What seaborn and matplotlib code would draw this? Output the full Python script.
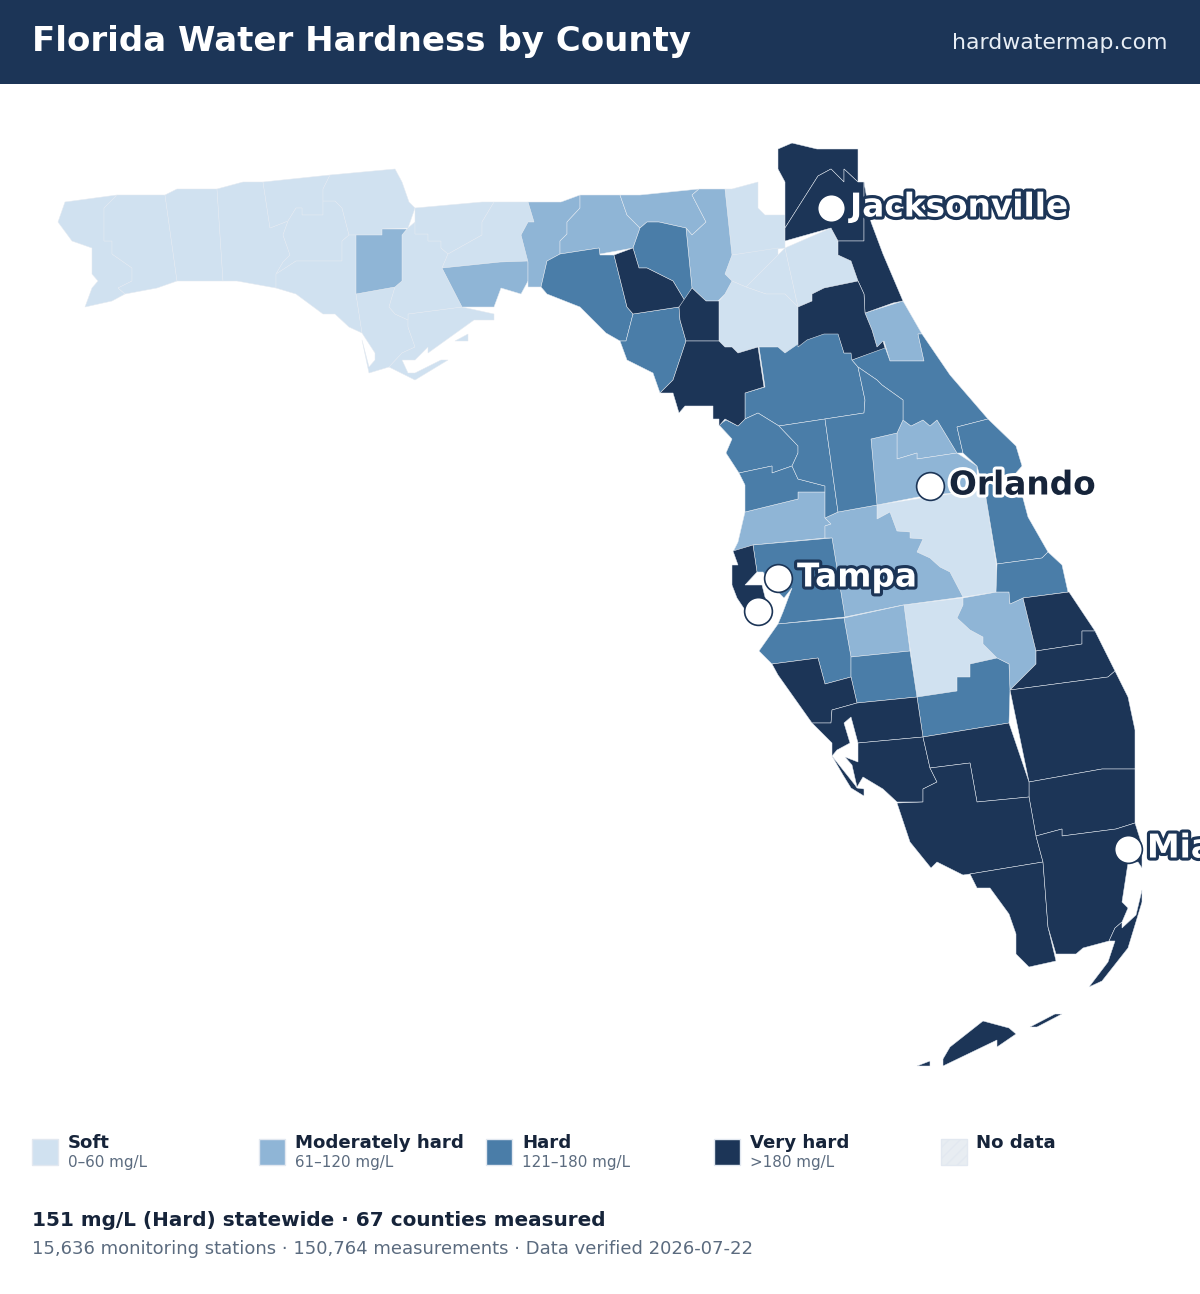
import matplotlib
matplotlib.use('Agg')
import matplotlib.pyplot as plt
import matplotlib.patheffects as pe
import pandas as pd
import seaborn as sns
from matplotlib.patches import Rectangle

# county outlines (x, y in picture pixels)
soft_shapes = [
    [(65,202),(117,195),(104,208),(104,241),(112,241),(112,254),(132,268),(132,281),(118,288),(125,294),(112,301),(85,307),(92,288),(98,281),(92,274),(92,248),(72,241),(58,222)],
    [(117,195),(165,195),(177,281),(157,288),(125,294),(118,288),(132,281),(132,268),(112,254),(112,241),(104,241),(104,208)],
    [(165,195),(177,189),(217,189),(223,281),(177,281)],
    [(217,189),(243,182),(263,182),(270,228),(288,221),(283,235),(290,255),(283,262),(276,274),(276,288),(237,281),(223,281)],
    [(263,182),(330,175),(323,189),(323,215),(302,215),(302,208),(296,208),(288,221),(270,228)],
    [(296,208),(302,208),(302,215),(323,215),(323,201),(335,201),(342,208),(349,235),(342,241),(342,261),(296,261),(276,274),(283,262),(290,255),(283,235),(288,221)],
    [(330,175),(395,169),(402,182),(409,202),(415,208),(408,228),(382,229),(382,235),(356,235),(349,235),(342,208),(335,201),(323,201),(323,189)],
    [(276,274),(296,261),(342,261),(342,241),(349,235),(356,235),(356,294),(362,333),(349,327),(335,314),(323,314),(296,294),(276,288)],
    [(356,294),(395,287),(389,307),(395,314),(408,320),(408,327),(415,347),(402,353),(389,367),(369,373),(362,340),(369,367),(375,360),(375,353),(362,333)],
    [(408,314),(462,307),(494,314),(494,320),(474,320),(428,353),(428,347),(415,360),(402,360),(408,373),(415,373),(441,360),(448,360),(415,380),(389,367),(402,353),(415,347),(408,327),(408,320)],
    [(455,341),(468,334),(468,341)],
    [(415,222),(408,228),(402,235),(402,281),(395,287),(389,307),(395,314),(408,320),(408,314),(462,307),(442,268),(448,254),(441,248),(441,241),(428,241),(428,234),(415,234)],
    [(415,208),(482,202),(494,202),(482,222),(482,235),(448,254),(441,248),(441,241),(428,241),(428,234),(415,234),(415,222)],
    [(494,202),(528,202),(534,222),(528,222),(521,235),(528,261),(500,262),(442,268),(448,254),(482,235),(482,222)],
    [(725,189),(732,189),(758,182),(758,208),(765,215),(785,215),(785,248),(732,255)],
    [(732,255),(778,248),(778,255),(746,287),(732,281),(725,274)],
    [(778,255),(785,248),(798,307),(785,294),(766,294),(746,287)],
    [(785,248),(831,228),(838,242),(838,255),(851,261),(858,281),(824,288),(812,294),(812,301),(798,307)],
    [(732,281),(746,287),(766,294),(785,294),(798,307),(798,347),(785,353),(778,347),(758,347),(738,353),(732,347),(725,347),(719,341),(719,301),(725,294)],
    [(877,505),(877,519),(890,512),(897,531),(910,532),(910,538),(923,539),(917,552),(930,558),(940,567),(950,572),(963,597),(996,592),(996,563),(986,498),(977,490)],
    [(904,605),(963,598),(963,605),(957,618),(970,630),(983,637),(983,644),(997,658),(970,664),(970,677),(957,677),(957,691),(917,697)],
]
moderate_shapes = [
    [(356,235),(382,235),(382,229),(407,229),(402,235),(402,281),(395,287),(356,294)],
    [(442,268),(500,262),(528,261),(528,281),(521,294),(501,288),(494,307),(462,307)],
    [(528,202),(561,202),(580,195),(580,208),(567,222),(567,234),(560,241),(560,254),(547,261),(541,287),(528,287),(528,262),(521,235),(528,222),(534,222)],
    [(580,195),(620,195),(627,215),(640,228),(633,248),(600,254),(599,248),(560,254),(560,241),(567,234),(567,222),(580,208)],
    [(620,195),(640,195),(699,189),(692,195),(706,222),(692,235),(686,228),(659,222),(647,222),(640,228),(627,215)],
    [(699,189),(725,189),(732,255),(725,274),(732,281),(725,294),(718,301),(706,301),(692,288),(686,228),(692,235),(706,222),(692,195)],
    [(865,313),(903,301),(922,334),(918,334),(924,361),(890,361),(884,341),(877,347),(872,330)],
    [(903,420),(911,426),(923,420),(930,426),(937,420),(957,453),(917,459),(917,453),(897,459),(897,433)],
    [(871,439),(897,433),(897,459),(917,453),(917,459),(957,453),(977,466),(977,490),(918,497),(877,505)],
    [(745,512),(798,499),(798,492),(825,492),(825,518),(831,524),(825,526),(825,538),(753,545),(733,552),(738,542)],
    [(825,518),(838,512),(877,505),(877,519),(890,512),(897,531),(910,532),(910,538),(923,539),(917,552),(930,558),(940,567),(950,572),(963,597),(903,605),(845,617),(832,538),(825,538),(825,526),(831,524)],
    [(844,618),(904,605),(910,651),(851,657)],
    [(963,598),(997,592),(1009,592),(1010,604),(1023,598),(1036,651),(1036,664),(1010,690),(1009,664),(997,658),(983,644),(983,637),(970,630),(957,618),(963,605)],
]
hard_shapes = [
    [(640,228),(647,222),(659,222),(686,228),(692,288),(685,301),(673,281),(647,268),(639,268),(633,248)],
    [(547,261),(560,254),(599,248),(600,255),(614,255),(627,307),(633,314),(626,341),(620,341),(606,333),(580,307),(547,294),(541,287)],
    [(633,314),(679,307),(680,320),(686,341),(673,380),(660,393),(653,373),(627,360),(620,341),(626,341)],
    [(759,347),(778,347),(785,353),(798,344),(805,340),(825,333),(838,333),(844,353),(852,353),(852,360),(858,367),(865,400),(864,413),(825,419),(779,426),(758,413),(745,419),(745,393),(765,387)],
    [(852,360),(885,347),(890,361),(924,361),(918,334),(922,334),(950,375),(988,419),(957,427),(963,453),(957,453),(937,420),(930,426),(923,420),(911,426),(903,420),(903,400),(882,385),(877,380),(858,367)],
    [(719,425),(726,420),(738,426),(745,419),(758,413),(779,426),(798,446),(798,453),(792,466),(772,473),(772,466),(739,473),(726,453),(732,439)],
    [(739,473),(772,466),(772,473),(792,466),(798,479),(825,486),(825,492),(798,492),(798,499),(745,512),(745,485)],
    [(779,426),(825,419),(838,512),(825,518),(825,486),(798,479),(792,466),(798,453),(798,446)],
    [(825,419),(864,413),(865,400),(858,367),(877,380),(882,385),(903,400),(903,420),(897,433),(871,439),(877,505),(838,512)],
    [(957,427),(988,419),(1016,446),(1022,466),(1015,474),(1020,487),(1028,517),(1048,552),(1042,558),(997,564),(986,498),(977,466),(963,453)],
    [(997,564),(1042,558),(1048,552),(1062,565),(1068,592),(1023,598),(1010,604),(1009,592),(996,592)],
    [(753,545),(832,538),(845,617),(778,624),(783,612),(792,588),(784,598),(780,594),(772,585),(763,572),(757,572)],
    [(778,624),(844,618),(851,657),(851,677),(825,684),(818,658),(772,664),(759,651)],
    [(851,657),(910,651),(917,697),(857,703),(851,677)],
    [(997,658),(1009,664),(1010,690),(1009,723),(923,737),(917,697),(957,691),(957,677),(970,677),(970,664)],
]
very_hard_shapes = [
    [(614,255),(633,248),(639,268),(647,268),(673,281),(685,301),(679,307),(633,314),(627,307)],
    [(679,307),(692,288),(706,301),(719,301),(719,341),(686,341),(680,320)],
    [(686,341),(719,341),(725,347),(732,347),(738,353),(758,347),(764,387),(745,393),(745,419),(738,426),(725,419),(719,426),(719,419),(713,419),(713,406),(685,406),(679,413),(673,393),(660,393),(673,380)],
    [(778,149),(792,143),(817,149),(858,149),(858,182),(844,169),(844,182),(831,169),(818,176),(785,228),(785,182),(778,169)],
    [(785,228),(818,176),(831,169),(844,182),(844,169),(858,182),(864,182),(864,241),(838,241),(831,228),(785,241)],
    [(838,241),(864,241),(864,182),(871,222),(883,254),(903,301),(893,303),(865,313),(864,294),(858,281),(851,261),(838,255)],
    [(798,307),(812,301),(812,294),(824,288),(858,281),(864,294),(865,313),(872,330),(877,347),(883,341),(885,348),(852,360),(851,353),(844,353),(838,334),(824,334),(807,340),(798,347)],
    [(733,551),(753,545),(757,572),(745,585),(762,585),(765,597),(772,610),(745,610),(737,598),(732,585),(732,565),(738,565)],
    [(772,664),(818,658),(825,684),(851,677),(857,703),(832,710),(831,723),(812,723),(778,675)],
    [(857,703),(917,697),(923,737),(858,743),(851,717),(844,723),(850,743),(837,750),(832,756),(832,743),(812,723),(831,723),(832,710)],
    [(858,743),(923,737),(930,768),(937,782),(923,789),(923,802),(897,802),(883,789),(863,777),(857,787),(852,765),(845,757),(858,762)],
    [(832,756),(855,785),(857,788),(864,789),(864,796),(851,788),(843,775)],
    [(1023,598),(1069,592),(1095,631),(1082,631),(1082,644),(1036,651)],
    [(1036,651),(1082,644),(1082,631),(1095,631),(1115,671),(1108,677),(1010,690),(1036,664)],
    [(1010,690),(1108,677),(1115,671),(1128,697),(1135,730),(1135,769),(1102,769),(1029,782)],
    [(1029,782),(1102,769),(1135,769),(1135,823),(1116,829),(1062,836),(1062,829),(1036,836),(1029,797)],
    [(923,737),(1009,723),(1029,782),(1029,797),(977,802),(970,763),(930,768)],
    [(930,768),(970,763),(977,802),(1029,797),(1036,836),(1043,862),(970,874),(963,875),(937,862),(931,868),(910,842),(897,803),(923,802),(923,789),(937,782)],
    [(970,874),(1043,862),(1048,927),(1056,961),(1029,967),(1016,954),(1016,934),(1009,914),(990,888),(977,888)],
    [(1036,836),(1062,829),(1062,836),(1116,829),(1135,823),(1142,845),(1142,868),(1138,862),(1128,863),(1122,902),(1128,908),(1122,922),(1115,928),(1109,941),(1083,948),(1076,954),(1056,954),(1048,927),(1043,862)],
    [(1115,928),(1122,922),(1122,928),(1136,915),(1142,890),(1142,902),(1128,948),(1102,981),(1089,987),(1108,962),(1115,941),(1109,941)],
    [(943,1066),(943,1059),(950,1047),(983,1021),(1009,1028),(1016,1034),(997,1047),(997,1040)],
    [(1030,1027),(1055,1014),(1062,1014),(1037,1027)],
    [(917,1066),(930,1061),(930,1066)],
]

level_names = ['Soft', 'Moderately hard', 'Hard', 'Very hard', 'No data']
level_ranges = ['0–60 mg/L', '61–120 mg/L', '121–180 mg/L', '>180 mg/L', '']
level_colors = ['#d0e1f0', '#8fb5d6', '#4a7da8', '#1c3557', '#e8edf2']

city_names = ['Jacksonville', 'Orlando', 'Tampa', '', 'Miami']
city_x = [831, 930, 778, 758, 1128]
city_y = [208, 486, 578, 611, 849]
city_fill = ['white', '#16243a', 'white', 'white', 'white']
city_halo = ['#1c3557', 'white', '#1c3557', '#1c3557', '#1c3557']

title = 'Florida Water Hardness by County'
site = 'hardwatermap.com'
summary = '151 mg/L (Hard) statewide · 67 counties measured'
details = '15,636 monitoring stations · 150,764 measurements · Data verified 2026-07-22'

sns.set_theme(style='white')
plt.rcParams['font.family'] = ['DejaVu Sans']

fig = plt.figure(figsize=(12, 12.94), dpi=100)
ax = fig.add_axes([0, 0, 1, 1])
ax.set_xlim(0, 1200)
ax.set_ylim(1294, 0)
ax.axis('off')

# header band
ax.add_patch(Rectangle((0, 0), 1200, 84, color=level_colors[3], lw=0))
ax.text(32, 42, title, color='white', fontsize=24.5, fontweight='bold', va='center')
ax.text(1168, 43, site, color='#e8eef5', fontsize=15.8, va='center', ha='right')

# counties
for shapes, colour in zip([soft_shapes, moderate_shapes, hard_shapes, very_hard_shapes], level_colors):
    for shape in shapes:
        xs, ys = zip(*shape)
        ax.fill(xs, ys, facecolor=colour, edgecolor='#e4eaf1', linewidth=0.35, joinstyle='miter')

# cities
cities = pd.DataFrame({'x': city_x, 'y': city_y})
sns.scatterplot(data=cities, x='x', y='y', ax=ax, s=400, color='white',
                edgecolor=level_colors[3], linewidth=1.2, legend=False, zorder=5)
ax.set_xlim(0, 1200)
ax.set_ylim(1294, 0)
ax.axis('off')
for name, x, y, fill, halo in zip(city_names, city_x, city_y, city_fill, city_halo):
    if not name:
        continue
    ax.text(x + 19, y - 1, name, color=fill, fontsize=23.6, fontweight='bold', va='center', zorder=6,
            path_effects=[pe.withStroke(linewidth=4.5, foreground=halo)])

# legend
legend_x = [32, 259, 486, 713.5, 940.5]
for x, name, rng, colour in zip(legend_x, level_names, level_ranges, level_colors):
    hatch = '///' if name == 'No data' else None
    ax.add_patch(Rectangle((x, 1139), 26, 26, facecolor=colour, edgecolor='#e2e8f0', linewidth=1, hatch=hatch))
    ax.text(x + 36, 1143, name, color='#16243a', fontsize=13.05, fontweight='bold', va='center')
    ax.text(x + 36, 1163, rng, color='#5b6b7f', fontsize=10.9, va='center')

ax.text(32, 1221, summary, color='#16243a', fontsize=14.4, fontweight='bold', va='center')
ax.text(32, 1249, details, color='#5b6b7f', fontsize=13, va='center')

fig.savefig('out.png', dpi=100)
